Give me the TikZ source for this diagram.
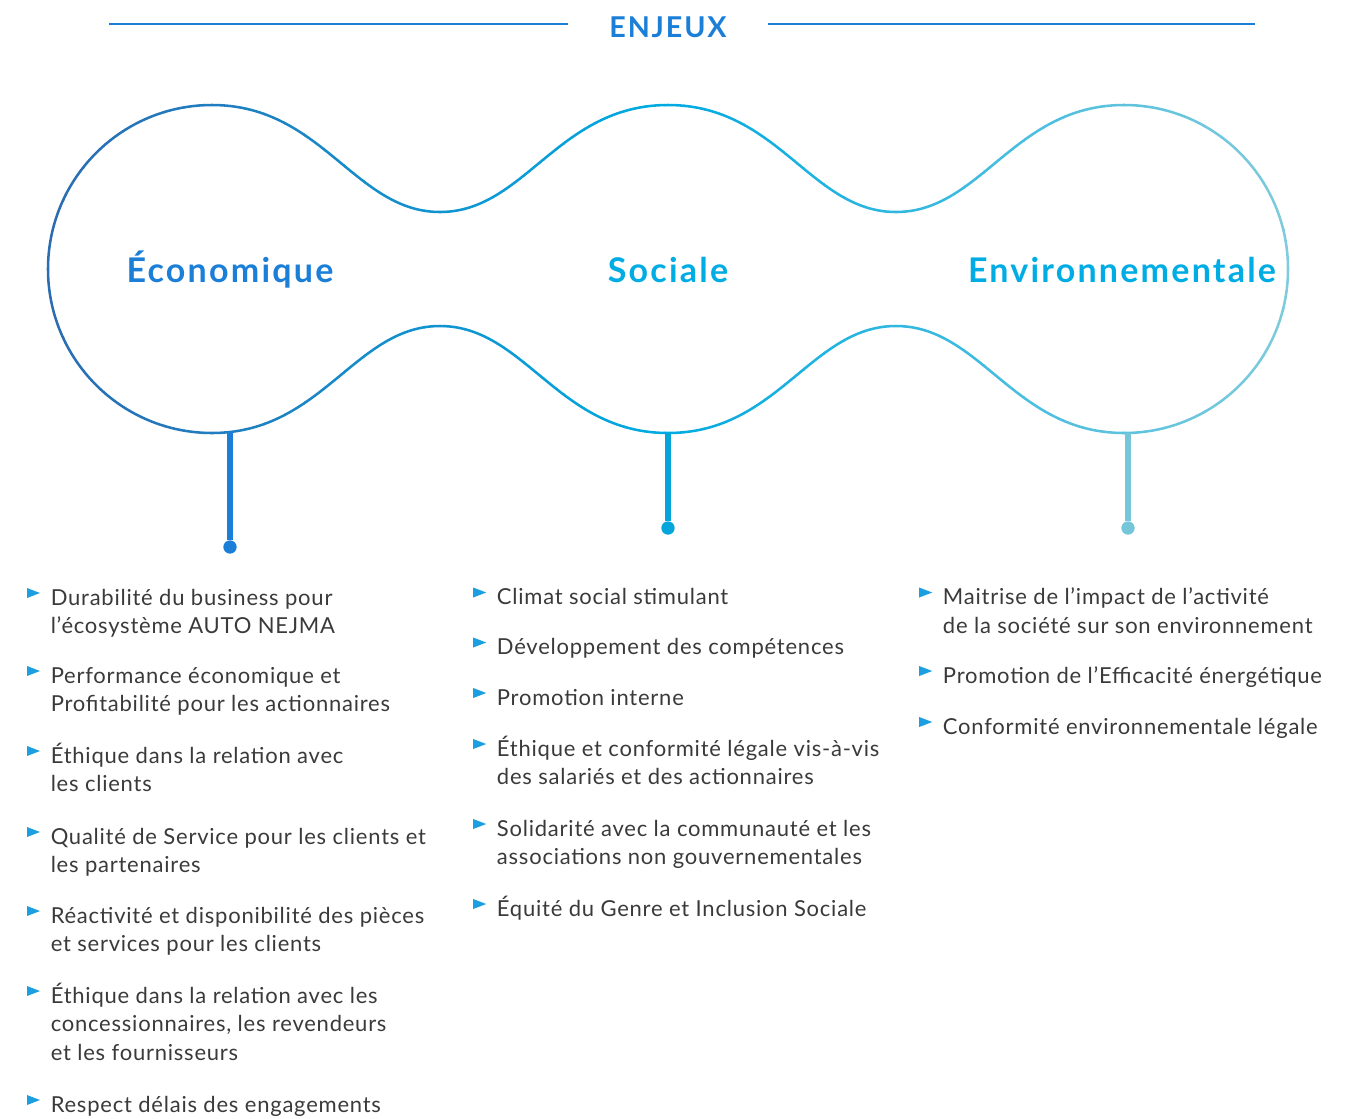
\documentclass[tikz,border=0pt]{standalone}
\usepackage{fontspec}
\setmainfont{Lato}
\newfontfamily\lobefont{Lato}[LetterSpace=6.5]
\newfontfamily\textefont{Lato}[LetterSpace=3.5]

\definecolor{bleuEnjeu}{HTML}{1B7FD8}
\definecolor{cyanEnjeu}{HTML}{00ACE4}
\definecolor{deepC}{HTML}{2C6CB2}
\definecolor{cyanC}{HTML}{00ABE1}
\definecolor{paleC}{HTML}{80CBDD}
\definecolor{tigeS}{HTML}{04A5DB}
\definecolor{tigeE}{HTML}{76C6D9}
\definecolor{puceC}{HTML}{1C9FE1}
\definecolor{encre}{HTML}{3A3A3A}

% outline of the three lobes
\newcommand{\formeEnjeux}{(212,105) .. controls (322,105) and (355,212) .. (440,212)
  .. controls (525,212) and (558,105) .. (668,105)
  .. controls (778,105) and (811,212) .. (896,212)
  .. controls (981,212) and (1014,105) .. (1124,105)
  arc[start angle=-90,end angle=90,radius=164]
  .. controls (1014,433) and (981,326) .. (896,326)
  .. controls (811,326) and (778,433) .. (668,433)
  .. controls (558,433) and (525,326) .. (440,326)
  .. controls (355,326) and (322,433) .. (212,433)
  arc[start angle=90,end angle=270,radius=164] -- cycle}

% item text, baseline on its first line
\newcommand{\lignes}[1]{\begin{tabular}[t]{@{}l@{}}#1\end{tabular}}

\tikzset{
  contour/.style={draw=trait, line width=1.9pt},
  filet/.style={draw=bleuEnjeu, line width=1.9pt},
  lobe/.style={anchor=base, inner sep=0, font=\lobefont\bfseries\fontsize{25.5}{30}\selectfont},
  tige/.style={line width=3.8pt},
  pastille/.style={circle, inner sep=0, minimum size=10pt},
  enjeu/.style={anchor=base west, inner sep=0, text=encre,
    font=\textefont\fontsize{16.5}{21.5}\selectfont},
  puce/.pic={\fill[puceC] (0,-5) -- (13,0) -- (0,5) -- cycle;}
}

\begin{document}
\begin{tikzpicture}[x=0.75pt,y=-0.75pt]
\useasboundingbox (0,0) rectangle (1358,1118);

% title
\node[anchor=base, inner xsep=30.75pt, text=bleuEnjeu,
  font=\lobefont\bfseries\fontsize{21.5}{24}\selectfont] (enjeux) at (668,37) {ENJEUX};
\coordinate (filet-g) at (109,24);
\coordinate (filet-d) at (1255,24);
\draw[filet] (filet-g) -- (filet-g -| enjeux.west);
\draw[filet] (filet-d) -- (filet-d -| enjeux.east);

% outline, coloured strip by strip from left to right
\foreach \i in {0,...,63}{
  \pgfmathsetmacro\xa{44+20*\i}
  \pgfmathsetmacro\pa{max(0,min(100,(668-\xa-10)/6.19))}
  \pgfmathsetmacro\pb{max(0,min(100,(\xa+10-668)/6.2))}
  \colorlet{trait}{paleC!\pb!cyanC}
  \colorlet{trait}{deepC!\pa!trait}
  \begin{scope}
    \clip (\xa,90) rectangle (\xa+20.6,450);
    \draw[contour] \formeEnjeux;
  \end{scope}
}

\node[lobe, text=bleuEnjeu] (eco) at (230,282) {Économique};
\node[lobe, text=cyanEnjeu] (soc) at (668,282) {Sociale};
\node[lobe, text=cyanEnjeu] (env) at (1122,282) {Environnementale};

% stems
\coordinate (eco-pied) at (230,432);
\coordinate (soc-pied) at (668,433);
\coordinate (env-pied) at (1128,433);
\node[pastille, fill=bleuEnjeu] (eco-point) at (230,547) {};
\node[pastille, fill=tigeS] (soc-point) at (668,528) {};
\node[pastille, fill=tigeE] (env-point) at (1128,528) {};
\draw[tige, bleuEnjeu] (eco-pied) -- (eco-point);
\draw[tige, tigeS] (soc-pied) -- (soc-point);
\draw[tige, tigeE] (env-pied) -- (env-point);

% economique
\node[enjeu] (eco1) at (50.5,605) {\lignes{Durabilité du business pour\\l’écosystème AUTO NEJMA}};
\node[enjeu] (eco2) at (50.5,683) {\lignes{Performance économique et\\Profitabilité pour les actionnaires}};
\node[enjeu] (eco3) at (50.5,763) {\lignes{Éthique dans la relation avec\\les clients}};
\node[enjeu] (eco4) at (50.5,844) {\lignes{Qualité de Service pour les clients et\\les partenaires}};
\node[enjeu] (eco5) at (50.5,923) {\lignes{Réactivité et disponibilité des pièces\\et services pour les clients}};
\node[enjeu] (eco6) at (50.5,1003) {\lignes{Éthique dans la relation avec les\\concessionnaires, les revendeurs\\et les fournisseurs}};
\node[enjeu] (eco7) at (50.5,1112) {Respect délais des engagements};

% sociale
\node[enjeu] (soc1) at (496.7,604.5) {Climat social stimulant};
\node[enjeu] (soc2) at (496.7,654.5) {Développement des compétences};
\node[enjeu] (soc3) at (496.7,705) {Promotion interne};
\node[enjeu] (soc4) at (496.7,756) {\lignes{Éthique et conformité légale vis-à-vis\\des salariés et des actionnaires}};
\node[enjeu] (soc5) at (496.7,836) {\lignes{Solidarité avec la communauté et les\\associations non gouvernementales}};
\node[enjeu] (soc6) at (496.7,916) {Équité du Genre et Inclusion Sociale};

% environnementale
\node[enjeu] (env1) at (942.7,604.5) {\lignes{Maitrise de l’impact de l’activité\\de la société sur son environnement}};
\node[enjeu] (env2) at (942.7,683) {Promotion de l’Efficacité énergétique};
\node[enjeu] (env3) at (942.7,734) {Conformité environnementale légale};

% bullets
\foreach \n in {eco1,eco2,eco3,eco4,eco5,eco6,eco7,soc1,soc2,soc3,soc4,soc5,soc6,env1,env2,env3}
  \pic at ([shift={(-23.5,-12)}]\n.base west) {puce};
\end{tikzpicture}
\end{document}
